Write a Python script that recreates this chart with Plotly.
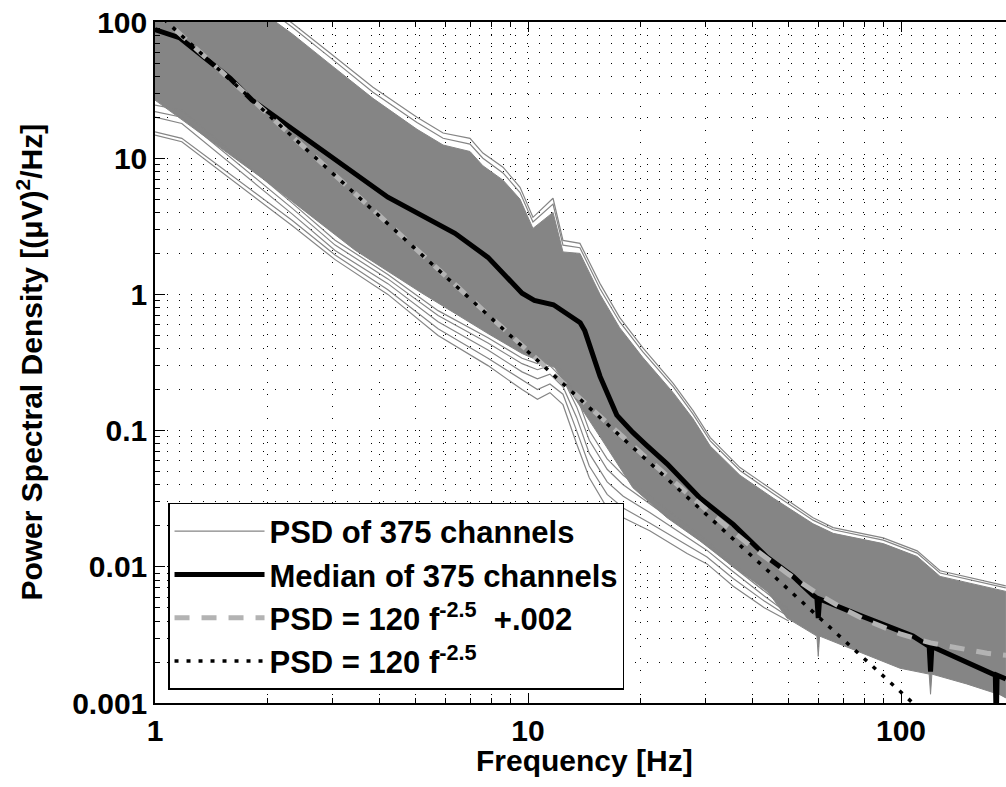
import plotly.graph_objects as go

# ---------------- data ----------------
# Median of 375 channels
median_f = [1, 1.167, 1.589, 1.82, 2.8, 4.21, 6.37, 7.81, 9.64, 10.4, 11.7, 13.8, 14.2,
            15.6, 17.3, 19.1, 20.8, 23.6, 28.9, 35.5, 43.7, 51.4, 58, 59.5, 60, 60.5,
            77.6, 107.7, 119, 120, 121, 176.5, 179, 180, 181, 191]
median_p = [88, 76.3, 38.7, 26.7, 11.5, 5.17, 2.81, 1.87, 1.02, 0.904, 0.84, 0.62, 0.54,
            0.25, 0.13, 0.097, 0.078, 0.057, 0.032, 0.0205, 0.0118, 0.0085, 0.0062, 0.0059, 0.0042, 0.0058,
            0.0044, 0.0031, 0.0026, 0.0017, 0.0026, 0.00165, 0.0016, 0.0007, 0.0016, 0.0015]

# Upper edge of the channel band (outermost line, next line, solid part)
upper_f = [1, 2.33, 2.945, 3.84, 5.04, 5.92, 6.99, 7.57, 8.57, 9.52, 10.31, 11.67, 12.41, 13.78,
           15.6, 17.6, 20.3, 24.5, 27.7, 30.8, 37.0, 45.4, 58.1, 65.8, 89.6, 110.5, 127.3, 191]
upper_line1_p = [560, 98.3, 59.2, 33.2, 20.0, 15.3, 14.0, 10.9, 8.59, 6.12, 3.68, 5.08, 2.49, 2.37,
                 1.20, 0.678, 0.407, 0.222, 0.140, 0.0889, 0.0535, 0.0362, 0.0229, 0.0194, 0.0163,
                 0.0131, 0.00935, 0.00725]
upper_line2_p = [500, 92, 55, 30.5, 18.3, 14.0, 12.7, 10.0, 7.8, 5.6, 3.4, 4.6, 2.3, 2.2,
                 1.10, 0.63, 0.38, 0.21, 0.132, 0.084, 0.051, 0.0345, 0.0220, 0.0187, 0.0157,
                 0.0126, 0.0090, 0.0070]
upper_core_p = [440, 82, 49, 27.5, 16.3, 12.5, 11.2, 8.8, 6.9, 5.0, 3.05, 4.0, 2.05, 2.0,
                1.0, 0.57, 0.345, 0.19, 0.122, 0.077, 0.047, 0.032, 0.0207, 0.0176, 0.0148,
                0.0119, 0.0085, 0.0066]

# Lower edge of the solid part of the band
lower_core_f = [1, 1.97, 3.44, 5.2, 7.81, 9.64, 11.8, 12.7, 15.6, 19.1, 23.6, 28.9, 35.5, 43.7,
                49.5, 59.5, 60, 60.5, 73, 99.4, 119, 120, 121, 150, 179, 180, 181, 191]
lower_core_p = [26.7, 6.9, 2.11, 1.02, 0.516, 0.368, 0.29, 0.21, 0.09, 0.0381, 0.0229, 0.0155,
                0.0100, 0.0067, 0.0042, 0.0031, 0.0022, 0.0031, 0.00254, 0.0018, 0.00163, 0.00116,
                0.00163, 0.00138, 0.00118, 0.0008, 0.00118, 0.00109]

# Low outlying channels
low_f = [1, 1.18, 2.33, 3.04, 4.21, 5.74, 7.81, 9.64, 10.6, 11.45, 12.41, 13.5, 14.6, 16.3,
         18.0, 21.2, 26.7, 30.2, 35.5, 43.0, 50.0]
low1_p = [14.8, 13.2, 3.2, 1.8, 1.0, 0.5, 0.30, 0.20, 0.17, 0.19, 0.155, 0.080, 0.045, 0.027,
          0.0229, 0.0184, 0.0125, 0.0105, 0.0072, 0.0050, 0.0040]
low2_p = [15.6, 14.0, 3.5, 1.95, 1.08, 0.56, 0.34, 0.235, 0.20, 0.22, 0.185, 0.10, 0.055, 0.034,
          0.027, 0.021, 0.0145, 0.0118, 0.0082, 0.0056, 0.0043]
low3_p = [20, 18, 3.9, 2.1, 1.2, 0.63, 0.39, 0.27, 0.24, 0.26, 0.21, 0.125, 0.068, 0.042,
          0.033, 0.025, 0.0165, 0.0132, 0.0092, 0.0061, 0.0045]
low4_p = [22, 20, 4.3, 2.3, 1.3, 0.70, 0.44, 0.31, 0.28, 0.30, 0.24, 0.15, 0.085, 0.052,
          0.040, 0.029, 0.0185, 0.0145, 0.0100, 0.0066, 0.0048]
low5_p = [24.5, 22.5, 4.7, 2.5, 1.4, 0.76, 0.48, 0.34, 0.31, 0.33, 0.27, 0.18, 0.10, 0.062,
          0.047, 0.033, 0.020, 0.0155, 0.0105, 0.0068, 0.0049]

# Fit curves: PSD = 120 f^-2.5 + .002 and PSD = 120 f^-2.5 (values at sample frequencies)
fit_f = [1, 1.5, 2, 3, 5, 7, 10, 15, 20, 25, 30, 40, 50, 60, 70, 80, 100, 120, 150, 170, 200]
fit_offset_p = [120.002, 43.547, 21.215, 7.700, 2.1486, 0.9276, 0.38147, 0.13971, 0.069082,
                0.0404, 0.026343, 0.013859, 0.008788, 0.006303, 0.0049271, 0.004096, 0.0032,
                0.002761, 0.0024355, 0.002318, 0.0022121]
fit_pure_f = [1, 200]
fit_pure_p = [120, 0.00021213]

x_ticks = [1, 10, 100]
x_ticklabels = ["1", "10", "100"]
y_ticks = [0.001, 0.01, 0.1, 1, 10, 100]
y_ticklabels = ["0.001", "0.01", "0.1", "1", "10", "100"]

# ---------------- figure ----------------
GRAY = "#858585"
FONT = "Liberation Sans, Arial, sans-serif"

fig = go.Figure()

band_x = upper_f + lower_core_f[::-1]
band_y = upper_core_p + lower_core_p[::-1]
fig.add_trace(go.Scatter(x=band_x, y=band_y, mode="lines", fill="toself", fillcolor=GRAY,
                         line=dict(color=GRAY, width=1), showlegend=False, hoverinfo="skip"))

first = True
for ys in [low1_p, low2_p, low3_p, low4_p, low5_p]:
    fig.add_trace(go.Scatter(x=low_f, y=ys, mode="lines", line=dict(color=GRAY, width=1.2),
                             name="PSD of 375 channels", legendgroup="ch",
                             showlegend=first, hoverinfo="skip"))
    first = False
for ys in [upper_line1_p, upper_line2_p]:
    fig.add_trace(go.Scatter(x=upper_f, y=ys, mode="lines", line=dict(color=GRAY, width=1.2),
                             legendgroup="ch", showlegend=False, hoverinfo="skip"))

fig.add_trace(go.Scatter(x=median_f, y=median_p, mode="lines",
                         line=dict(color="black", width=5), name="Median of 375 channels"))
fig.add_trace(go.Scatter(x=fit_f, y=fit_offset_p, mode="lines",
                         line=dict(color="#b3b3b3", width=5, dash="15px,12px"),
                         name="PSD = 120 f<sup>-2.5</sup>&nbsp; +.002"))
fig.add_trace(go.Scatter(x=fit_pure_f, y=fit_pure_p, mode="lines",
                         line=dict(color="black", width=3.5, dash="4px,8px"),
                         name="PSD = 120 f<sup>-2.5</sup>"))

minor_x = [m * 10 ** k for k in range(0, 3) for m in range(2, 10)]
minor_y = [m * 10 ** k for k in range(-3, 2) for m in range(2, 10)]

grid_common = dict(gridcolor="black", gridwidth=1, griddash="1px,11px")

fig.update_xaxes(type="log", range=[0, 2.2815], tickmode="array", tickvals=x_ticks,
                 ticktext=x_ticklabels, ticks="inside", ticklen=10, tickcolor="black",
                 showline=True, linecolor="black", linewidth=1.5, mirror="ticks",
                 showgrid=True, zeroline=False,
                 tickfont=dict(family=FONT, size=30, color="black", weight="bold"),
                 minor=dict(tickmode="array", tickvals=minor_x, ticks="inside", ticklen=5,
                            tickcolor="black", showgrid=True, **grid_common),
                 **grid_common)
fig.update_yaxes(type="log", range=[-3, 2], tickmode="array", tickvals=y_ticks,
                 ticktext=y_ticklabels, ticks="inside", ticklen=10, tickcolor="black",
                 showline=True, linecolor="black", linewidth=1.5, mirror=False,
                 showgrid=True, zeroline=False,
                 tickfont=dict(family=FONT, size=30, color="black", weight="bold"),
                 minor=dict(tickmode="array", tickvals=minor_y, ticks="inside", ticklen=5,
                            tickcolor="black", showgrid=True, **grid_common),
                 **grid_common)

fig.add_annotation(text="Frequency [Hz]", xref="paper", yref="paper", x=0.505, y=-0.084,
                   xanchor="center", yanchor="middle", showarrow=False,
                   font=dict(family=FONT, size=30, color="black", weight="bold"))
fig.add_annotation(text="Power Spectral Density [(\u03bcV)<sup>2</sup>/Hz]", xref="paper",
                   yref="paper", x=-0.148, y=0.5, xanchor="center", yanchor="middle",
                   textangle=-90, showarrow=False,
                   font=dict(family=FONT, size=30, color="black", weight="bold"))

fig.update_layout(
    width=1006, height=787, autosize=False,
    margin=dict(l=155, r=0, t=22, b=84),
    paper_bgcolor="white", plot_bgcolor="white",
    legend=dict(x=0.0153, y=0.0191, xanchor="left", yanchor="bottom",
                bgcolor="white", bordercolor="black", borderwidth=1.5,
                font=dict(family=FONT, size=31, color="black", weight="bold"),
                itemwidth=90, tracegroupgap=0),
    showlegend=True,
)

fig.write_html("out.html")
